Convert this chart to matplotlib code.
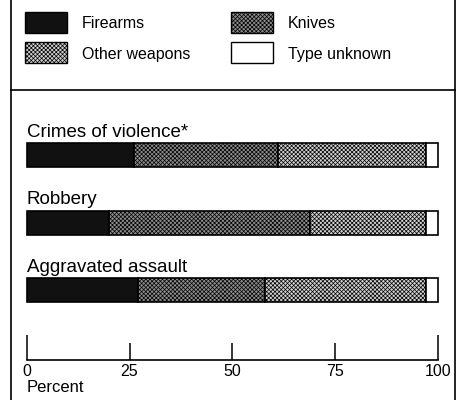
import matplotlib
matplotlib.use("Agg")
import matplotlib.pyplot as plt
from matplotlib.patches import Rectangle

plt.rcParams['font.family'] = ['Liberation Sans', 'DejaVu Sans']
plt.rcParams['hatch.linewidth'] = 0.5

# data (percent of crimes, by weapon type)
categories = ['Crimes of violence*', 'Robbery', 'Aggravated assault']
firearms = [26, 20, 27]
knives = [35, 49, 31]
other_weapons = [36, 28, 39]
type_unknown = [3, 3, 3]

weapon_names = ['Firearms', 'Knives', 'Other weapons', 'Type unknown']
series = [firearms, knives, other_weapons, type_unknown]
styles = [
    dict(facecolor='#111111', hatch=None),
    dict(facecolor='#8c8c8c', hatch='xxxxxxxx'),
    dict(facecolor='#d0d0d0', hatch='xxxxxxxx'),
    dict(facecolor='white', hatch=None),
]
ticks_major = [0, 100]
ticks_minor = [25, 50, 75]

W, H = 459, 400
fig = plt.figure(figsize=(W / 100, H / 100), dpi=100)

# background axes in pixel units: frame, separator, legend
bg = fig.add_axes([0, 0, 1, 1])
bg.set_xlim(0, W)
bg.set_ylim(H, 0)
bg.axis('off')
bg.plot([11, 11], [0, H], color='black', lw=1.2)
bg.plot([455, 455], [0, H], color='black', lw=1.2)
bg.plot([11, 455], [90, 90], color='black', lw=1.2)

legend_pos = [(25, 12), (231, 12), (25, 42), (231, 42)]
for (lx, ly), name, st in zip(legend_pos, weapon_names, styles):
    bg.add_patch(Rectangle((lx, ly), 42, 21, edgecolor='black', lw=1.0, **st))
    bg.text(lx + 57, ly + 12, name, fontsize=11.5, va='center', ha='left')

# main bar axes, y in pixel units
ax = fig.add_axes([26.7 / W, 40 / H, 411.3 / W, 260 / H])
ax.set_xlim(0, 100)
ax.set_ylim(360, 100)
ax.patch.set_visible(False)
for s in ['left', 'right', 'top']:
    ax.spines[s].set_visible(False)
ax.spines['bottom'].set_linewidth(1.2)
ax.set_yticks([])

centers = [155 + 67.5 * i for i in range(len(categories))]
left = [0] * len(categories)
for vals, st in zip(series, styles):
    ax.barh(centers, vals, height=24, left=left, edgecolor='black',
            linewidth=1.2, clip_on=False, **st)
    left = [a + b for a, b in zip(left, vals)]

for c, name in zip(centers, categories):
    ax.text(0, c - 18, name, fontsize=13.5, ha='left', va='baseline')

ax.set_xticks(ticks_major)
ax.set_xticks(ticks_minor, minor=True)
ax.set_xticklabels([str(t) for t in ticks_major], fontsize=11.5)
ax.set_xticklabels([str(t) for t in ticks_minor], minor=True, fontsize=11.5)
ax.tick_params(axis='x', which='major', direction='in', length=18, width=1.1, pad=3)
ax.tick_params(axis='x', which='minor', direction='in', length=12, width=1.1, pad=3)
ax.text(0, 388, 'Percent', fontsize=12, ha='left', va='center')

fig.savefig('out.png', dpi=100)
